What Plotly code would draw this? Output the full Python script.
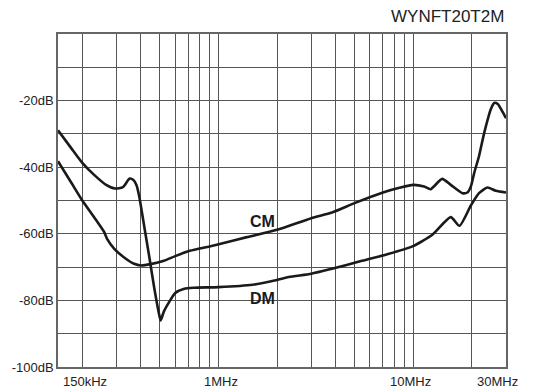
import math
import plotly.graph_objects as go

# ---- data (frequency in MHz, level in dB) ----
dm_freq = [0.15, 0.175, 0.2, 0.23, 0.265, 0.295, 0.323, 0.35, 0.365, 0.38, 0.392,
           0.416, 0.442, 0.468, 0.496, 0.505, 0.525, 0.561, 0.6, 0.668, 0.75, 1.0,
           1.5, 1.89, 2.3, 3.0, 3.83, 5.4, 7.3, 10, 12.6, 15.6, 17.3, 19.8, 21.8,
           24.1, 26.6, 30]
dm_db = [-28.9, -34.2, -38.7, -42.3, -45.3, -46.4, -46.0, -43.4, -43.8, -45.5, -48.8,
         -57.8, -67.1, -76.2, -84.2, -86.0, -83.3, -80.3, -77.8, -76.5, -76.2, -76.0,
         -75.3, -74.2, -73.0, -72.0, -70.5, -68.2, -66.2, -63.7, -60.2, -55.0, -57.6,
         -51.5, -47.8, -46.1, -47.1, -47.6]

cm_freq = [0.15, 0.175, 0.2, 0.235, 0.258, 0.268, 0.292, 0.328, 0.369, 0.4, 0.449,
           0.525, 0.6, 0.713, 0.9, 1.04, 1.4, 2.0, 3.0, 3.83, 5.0, 7.0, 8.5, 10,
           11.4, 12.3, 14.1, 15.6, 17.9, 19.0, 19.8, 20.6, 21.8, 23.2, 25.1, 26.1,
           27.2, 28.9, 30]
cm_db = [-38.2, -44.5, -50.0, -55.8, -59.3, -61.5, -64.5, -67.1, -69.0, -69.5, -69.1,
         -68.1, -66.7, -65.1, -63.8, -62.9, -61.0, -58.8, -55.3, -53.6, -50.8, -47.6,
         -46.2, -45.3, -45.8, -46.6, -43.5, -45.3, -47.8, -47.6, -45.8, -41.7, -36.7,
         -29.6, -22.5, -20.7, -21.0, -23.5, -25.3]

x_min, x_max = 0.15, 30
x_grid = [0.2, 0.3, 0.4, 0.5, 0.6, 0.7, 0.8, 0.9, 1, 2, 3, 4, 5, 6, 7, 8, 9, 10, 20]
x_label_vals = [0.15, 1, 10, 30]
x_label_text = ["150kHz", "1MHz", "10MHz", "30MHz"]
y_tick_vals = [-100, -90, -80, -70, -60, -50, -40, -30, -20, -10, 0]
y_tick_text = ["-100dB", "", "-80dB", "", "-60dB", "", "-40dB", "", "-20dB", "", ""]
title_text = "WYNFT20T2M"

FONT = "Liberation Sans, Arial, Helvetica, sans-serif"
INK = "#1a1a1a"
GRID = "#555555"

fig = go.Figure()
for f, d, name in [(cm_freq, cm_db, "CM"), (dm_freq, dm_db, "DM")]:
    fig.add_trace(go.Scatter(x=f, y=d, mode="lines", name=name,
                             line=dict(color=INK, width=2.6, shape="spline", smoothing=0.6),
                             showlegend=False, hoverinfo="skip"))

# page body has an 8px margin, so the figure is sized to fit the window from there
fig.update_layout(
    width=532, height=384,
    margin=dict(l=50, r=34, t=26, b=25, autoexpand=False),
    paper_bgcolor="white", plot_bgcolor="white",
    font=dict(family=FONT, size=13, color="#222222"),
)
fig.update_xaxes(type="log", range=[math.log10(x_min), math.log10(x_max)],
                 tickvals=x_grid, showticklabels=False, ticks="",
                 showgrid=True, gridcolor=GRID, gridwidth=1.3,
                 showline=True, mirror=True, linecolor="#666666", linewidth=1.5,
                 zeroline=False, automargin=False)
fig.update_yaxes(range=[-100, 0], tickvals=y_tick_vals, ticktext=y_tick_text,
                 ticks="", showgrid=True, gridcolor=GRID, gridwidth=1.3,
                 showline=True, mirror=True, linecolor="#666666", linewidth=1.5,
                 zeroline=False, tickfont=dict(size=13), automargin=False)

anchors = ["left", "center", "center", "center"]
shifts = [3, 3, -3, -9]
for v, t, a, s in zip(x_label_vals, x_label_text, anchors, shifts):
    fig.add_annotation(x=math.log10(v), y=0, xref="x", yref="paper", text=t,
                       showarrow=False, xanchor=a, yanchor="top", xshift=s, yshift=-5,
                       font=dict(size=13, family=FONT, color="#222222"))

fig.add_annotation(x=1, y=1, xref="paper", yref="paper", text=title_text,
                   showarrow=False, xanchor="right", yanchor="bottom", yshift=6, xshift=0,
                   font=dict(size=17, family=FONT, color="#222222"))

fig.add_annotation(x=math.log10(1.68), y=-56.2, xref="x", yref="y", text="<b>CM</b>",
                   showarrow=False, font=dict(size=16, family=FONT, color=INK))
fig.add_annotation(x=math.log10(1.68), y=-79.5, xref="x", yref="y", text="<b>DM</b>",
                   showarrow=False, font=dict(size=16, family=FONT, color=INK))

fig.write_html("out.html")
